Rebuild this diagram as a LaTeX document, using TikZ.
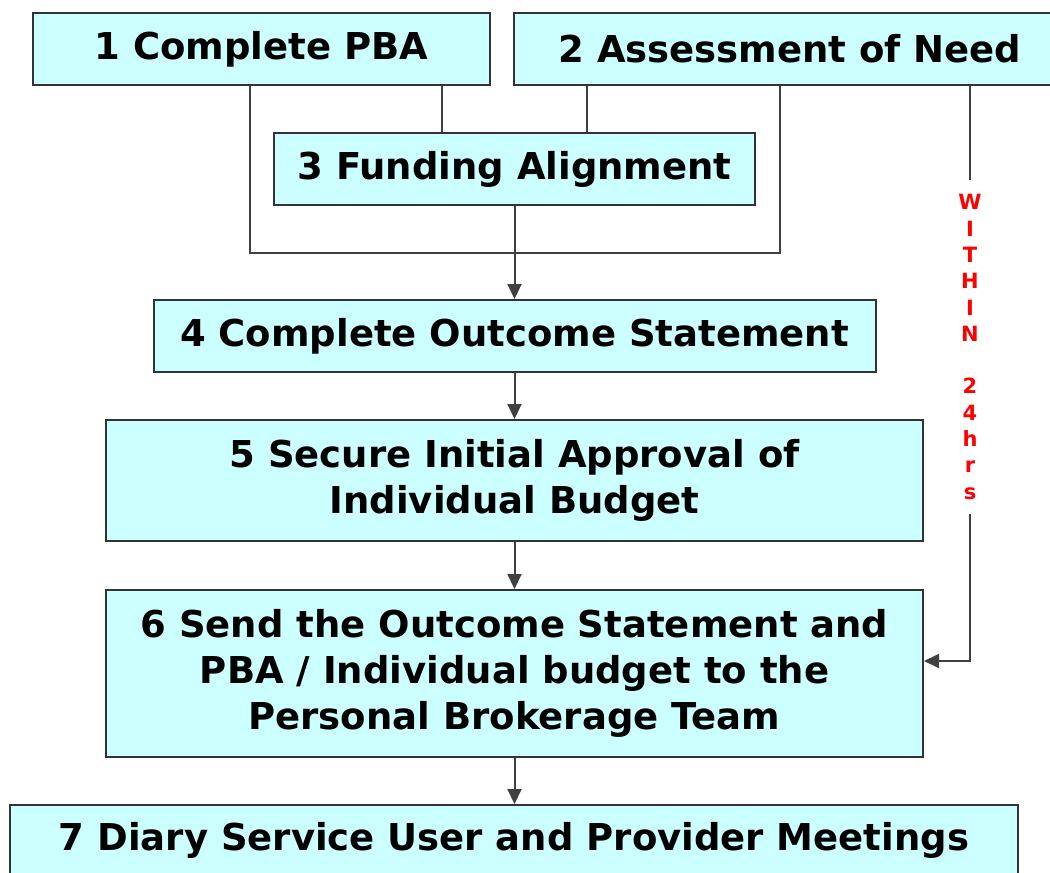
\documentclass[tikz,border=0pt]{standalone}
\usepackage{fontspec}
\usepackage{tikz}
\usetikzlibrary{arrows.meta,positioning}
\newfontfamily\stagefont{DejaVu Sans Bold}
\definecolor{stagefill}{RGB}{204,255,255}
\definecolor{stageline}{RGB}{51,51,51}

\begin{document}
\begin{tikzpicture}[x=1pt, y=-1pt,
  every node/.style={font=\stagefont\fontsize{37}{46}\selectfont},
  stagebox/.style={draw=stageline, line width=2pt, fill=stagefill, align=center, inner sep=0pt},
  link/.style={draw=black!75, line width=2pt},
  flow/.style={link, -{Triangle[width=14pt,length=15pt]}}]
  \useasboundingbox (0,0) rectangle (1050,873);
  \clip (0,0) rectangle (1050,873);
  % Top row and funding
  \node[stagebox, minimum width=457pt, minimum height=72pt] (pba) at (261.5,49) {1 Complete PBA};
  \node[stagebox, minimum width=552pt, minimum height=72pt] (need) at (790,49) {2 Assessment of Need};
  \node[stagebox, minimum width=481pt, minimum height=72pt] (fund) at (514.5,169) {3 Funding Alignment};
  % Main column
  \node[stagebox, minimum width=722pt, minimum height=72pt] (outcome) at (514.5,336) {4 Complete Outcome Statement};
  \node[stagebox, minimum width=817pt, minimum height=121pt] (approve) at (514.5,480.5)
    {5 Secure Initial Approval of\\Individual Budget};
  \node[stagebox, minimum width=817pt, minimum height=167pt] (sent) at (514.5,673.5)
    {6 Send the Outcome Statement and\\PBA / Individual budget to the\\Personal Brokerage Team};
  \node[stagebox, minimum width=1008pt, minimum height=71pt] (diary) at (514,840.5)
    {7 Diary Service User and Provider Meetings};
  % Deadline label
  \node[text=red, font=\stagefont\fontsize{21}{26.3}\selectfont, align=center, inner xsep=0pt, inner ysep=14pt]
    (within) at (970,347) {W\\I\\T\\H\\I\\N\\ \\2\\4\\h\\r\\s};
  % Connectors
  \coordinate (join) at (514.5,253);
  \draw[link] ([xshift=-11.5pt]pba.south) |- (join) -| ([xshift=-10pt]need.south);
  \draw[link] ([xshift=180.5pt]pba.south) -- ([xshift=-72.5pt]fund.north);
  \draw[link] ([xshift=-203pt]need.south) -- ([xshift=72.5pt]fund.north);
  \draw[flow] (fund.south) -- (outcome.north);
  \foreach \a/\b in {outcome/approve, approve/sent, sent/diary}{
    \draw[flow] (\a.south) -- (\a.south |- \b.north);
  }
  \draw[link] ([xshift=180pt]need.south) -- (within.north);
  \draw[flow] (within.south) |- ([yshift=12.5pt]sent.east);
\end{tikzpicture}
\end{document}
